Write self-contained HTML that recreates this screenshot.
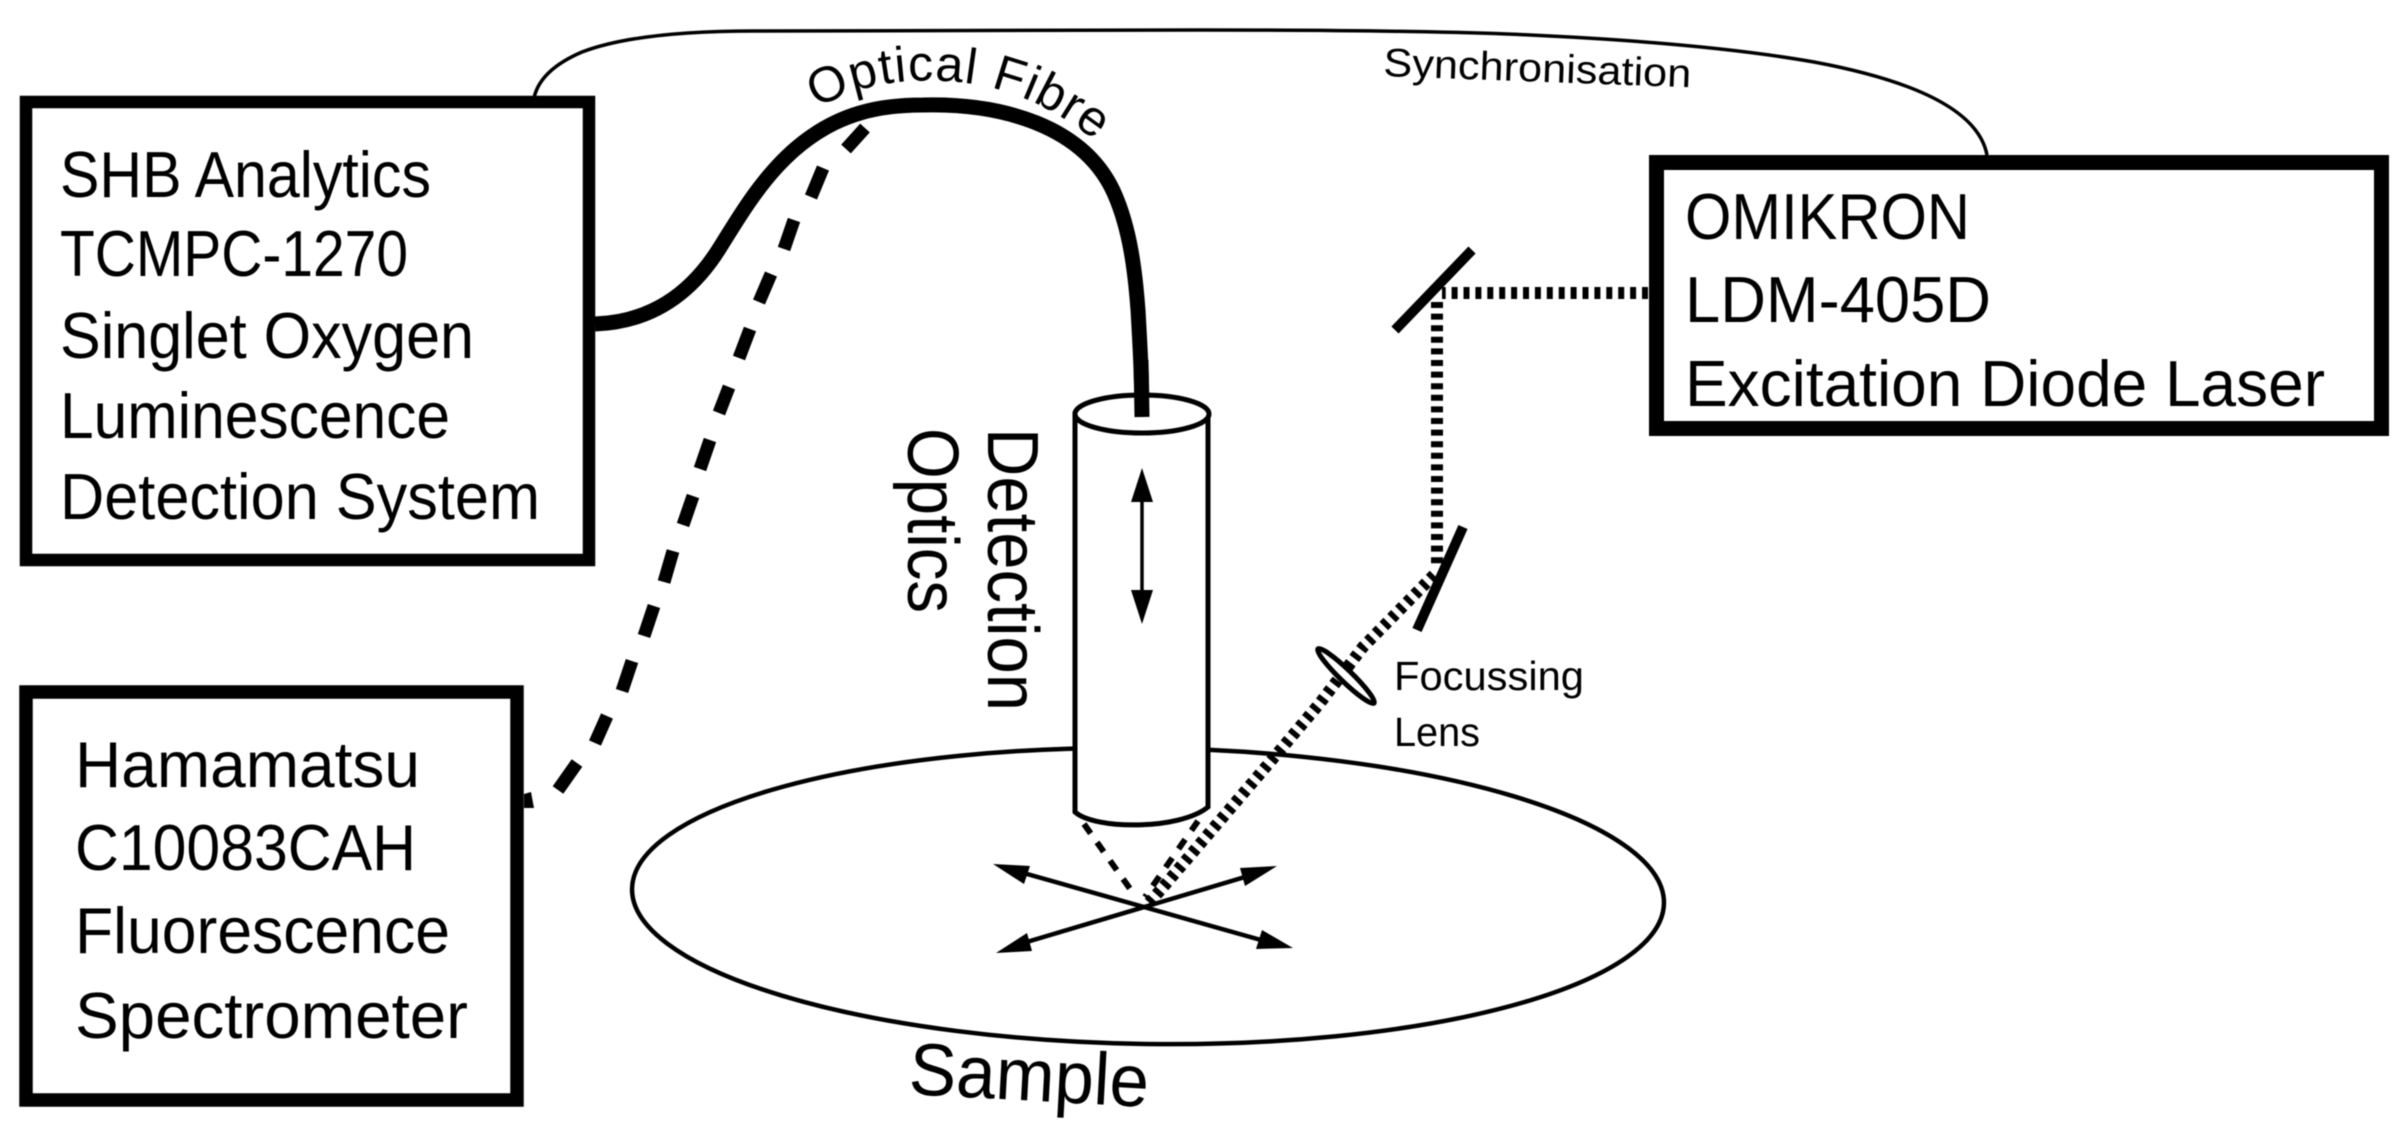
<!DOCTYPE html>
<html><head><meta charset="utf-8"><style>
html,body{margin:0;padding:0;background:#fff;width:2404px;height:1128px;overflow:hidden}
svg{display:block;filter:blur(0.5px)}
text{font-family:"Liberation Sans",sans-serif;fill:#000}
</style></head><body>
<svg width="2404" height="1128" viewBox="0 0 2404 1128" xmlns="http://www.w3.org/2000/svg">
<defs>
<path id="of" d="M810 113 C860 80 920 76 973 84 C1020 92 1060 110 1120 160"/>
</defs>
<!-- sync -->
<path d="M534 98 Q540 70 582 52 Q640 30 765 31 L1200 30 Q1400 30 1507 34 Q1700 42 1814 62 Q1975 92 1987 155" fill="none" stroke="#000" stroke-width="3.5"/>
<!-- sample -->
<ellipse cx="1148" cy="896" rx="516" ry="148" transform="rotate(0.8 1148 896)" fill="#fff" stroke="#000" stroke-width="4.5"/>
<!-- dashed fibre as separate dashes -->
<path d="M865 128L846 149 M823 168L811 197 M794 220L784 249 M771 274L759 302 M750 329L739 358 M729 387L719 413 M710 440L700 469 M693 496L683 525 M673 551L664 582 M654 606L644 636 M632 661L622 691 M607 716L595 743 M577 763L558 790" fill="none" stroke="#000" stroke-width="13"/>
<path d="M524 794 L531 792 L534 808 L524 808 Z" fill="#000"/>
<!-- fibre -->
<path d="M595 324 C650 322 690 295 719 249 C748 203 785 135 860 113 C880 107 900 105 923 105 C1000 103 1085 125 1115 195 C1130 230 1135 270 1138 310 C1140 345 1142 380 1142 417" fill="none" stroke="#000" stroke-width="15"/>
<!-- boxes -->
<rect x="26" y="102" width="563" height="458" fill="none" stroke="#000" stroke-width="12.5"/>
<rect x="26" y="692" width="491" height="408" fill="none" stroke="#000" stroke-width="13.5"/>
<rect x="1656.500" y="162.500" width="725" height="266" fill="#fff" stroke="#000" stroke-width="15"/>
<!-- cylinder -->
<path d="M1075 414 L1075 812 C1095 830 1180 830 1208 807 L1208 414 Z" fill="#fff" stroke="#000" stroke-width="5"/>
<ellipse cx="1142" cy="414" rx="67" ry="19" fill="#fff" stroke="#000" stroke-width="5"/>
<path d="M1141 360 L1142 417" stroke="#000" stroke-width="15" fill="none"/>
<!-- vertical arrow -->
<path d="M1142 490 L1142 605" stroke="#000" stroke-width="3.5"/>
<path d="M1142 468 L1153 502 L1131 502 Z M1142 624 L1153 590 L1131 590 Z" fill="#000"/>
<!-- cone -->
<path d="M1084 824 L1133 893" stroke="#000" stroke-width="6" stroke-dasharray="11.500 11" fill="none"/>
<path d="M1198 821 L1145 897" stroke="#000" stroke-width="6" stroke-dasharray="11.500 11" fill="none"/>
<!-- beams -->
<path d="M1648 293 L1442 293" stroke="#000" stroke-width="12" stroke-dasharray="6 5.900" fill="none"/>
<path d="M1437 302 L1437 566" stroke="#000" stroke-width="12" stroke-dasharray="6 5.600" fill="none"/>
<path d="M1434 575 L1363 647 L1320 703 L1282 748 L1164 886 L1149 903" stroke="#000" stroke-width="12" stroke-dasharray="5.500 5.500" fill="none"/>
<!-- mirrors -->
<path d="M1472 250 L1395 330" stroke="#000" stroke-width="10" fill="none"/>
<path d="M1463 527 L1417 630" stroke="#000" stroke-width="10" fill="none"/>
<!-- lens -->
<ellipse cx="1346" cy="676" rx="39" ry="6" transform="rotate(44 1346 676)" fill="#fff" stroke="#000" stroke-width="5"/>
<!-- cross arrows -->
<line x1="1020" y1="872" x2="1268" y2="942" stroke="#000" stroke-width="4.500"/>
<line x1="1020" y1="944" x2="1255" y2="874" stroke="#000" stroke-width="4.500"/>
<path d="M993 864 L1030 866 L1024 884 Z" fill="#000"/>
<path d="M1277 866 L1240 868 L1245 886 Z" fill="#000"/>
<path d="M996 953 L1027 933 L1032 951 Z" fill="#000"/>
<path d="M1293 948 L1262 930 L1256 949 Z" fill="#000"/>
<!-- text -->
<g font-size="65">
<text x="60" y="197" textLength="371" lengthAdjust="spacingAndGlyphs">SHB Analytics</text>
<text x="60" y="276" textLength="348" lengthAdjust="spacingAndGlyphs">TCMPC-1270</text>
<text x="60" y="358" textLength="414" lengthAdjust="spacingAndGlyphs">Singlet Oxygen</text>
<text x="60" y="438" textLength="390" lengthAdjust="spacingAndGlyphs">Luminescence</text>
<text x="60" y="519" textLength="480" lengthAdjust="spacingAndGlyphs">Detection System</text>
<text x="75" y="787" textLength="345" lengthAdjust="spacingAndGlyphs">Hamamatsu</text>
<text x="75" y="870" textLength="341" lengthAdjust="spacingAndGlyphs">C10083CAH</text>
<text x="75" y="953" textLength="375" lengthAdjust="spacingAndGlyphs">Fluorescence</text>
<text x="75" y="1038" textLength="393" lengthAdjust="spacingAndGlyphs">Spectrometer</text>
<text x="1685" y="239" textLength="285" lengthAdjust="spacingAndGlyphs">OMIKRON</text>
<text x="1685" y="322" textLength="306" lengthAdjust="spacingAndGlyphs">LDM-405D</text>
<text x="1685" y="406" textLength="640" lengthAdjust="spacingAndGlyphs">Excitation Diode Laser</text>
</g>
<text font-size="40" transform="translate(1383 76) rotate(2.1)" textLength="308" lengthAdjust="spacingAndGlyphs">Synchronisation</text>
<text font-size="41" x="1394" y="690" textLength="190" lengthAdjust="spacingAndGlyphs">Focussing</text>
<text font-size="41" x="1394" y="746" textLength="86" lengthAdjust="spacingAndGlyphs">Lens</text>
<text font-size="50" letter-spacing="1.2"><textPath href="#of" startOffset="8">Optical Fibre</textPath></text>
<text font-size="72" transform="translate(988 428) rotate(90)" textLength="283" lengthAdjust="spacingAndGlyphs">Detection</text>
<text font-size="72" transform="translate(908 428) rotate(90)" textLength="185" lengthAdjust="spacingAndGlyphs">Optics</text>
<text font-size="74" transform="translate(908 1094) rotate(3.1)" textLength="240" lengthAdjust="spacingAndGlyphs">Sample</text>
</svg>
</body></html>
